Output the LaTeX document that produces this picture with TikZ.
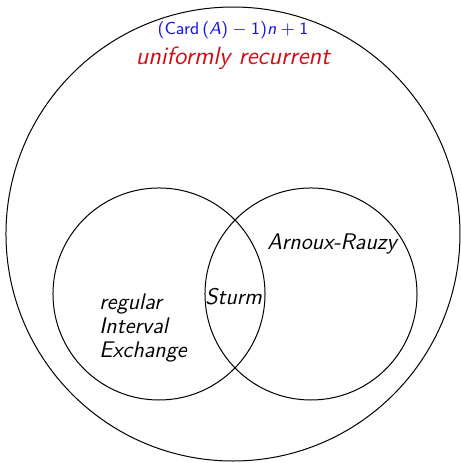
\documentclass[tikz,border=0pt]{standalone}
\usepackage{xcolor}
\usepackage{tikz}
\usetikzlibrary{positioning}
\definecolor{recblue}{RGB}{20,20,235}
\definecolor{recred}{RGB}{205,15,20}
\tikzset{
  setcircle/.style={
    draw, circle, line width=0.5pt, inner sep=0pt
  },
  setlabel/.style={
    font=\sffamily\itshape\fontsize{11.3}{12}\selectfont, inner sep=0pt
  },
  complabel/.style={
    font=\sffamily\fontsize{8.7}{10}\selectfont, text=recblue, inner sep=0pt
  },
  titlelabel/.style={
    font=\sffamily\itshape\fontsize{12.5}{14}\selectfont, text=recred, inner sep=0pt
  },
}
\newcommand{\opsp}{\hspace{0.25em}}
\begin{document}
\begin{tikzpicture}
  \useasboundingbox (0,0) rectangle (8.084,8.136);

  % ── Sets ───────────────────────────────────────────────────────
  \node[setcircle, minimum size=7.978cm] (unirec) at (4.094,4.024) {};
  \node[setcircle, minimum size=3.726cm] (iet) at (2.794,2.970) {};
  \node[setcircle, minimum size=3.726cm] (arx) at (5.465,2.970) {};

  % ── Labels ─────────────────────────────────────────────────────
  \node[complabel] (complexity) at (4.094,7.600)
    {(Card\,(\textit{A})\opsp$-$\opsp1)\textit{n}\opsp$+$\opsp1};
  \node[titlelabel, below=0.13cm of complexity] (unirectext) {uniformly recurrent};

  \node[setlabel] (sturm) at (4.105,2.917) {Sturm};
  \node[setlabel] (arxtext) at (5.834,3.848) {Arnoux-Rauzy};
  \node[setlabel, anchor=west, align=left] (iettext) at (1.74,2.380)
    {regular\\Interval\\Exchange};
\end{tikzpicture}
\end{document}
